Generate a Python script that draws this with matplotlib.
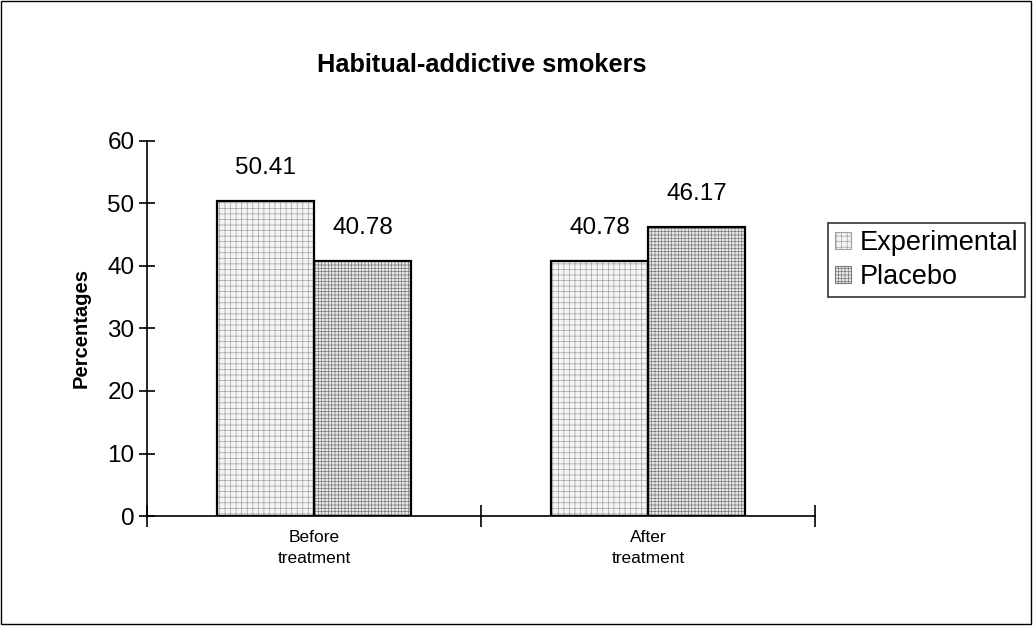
import matplotlib
matplotlib.use("Agg")
from matplotlib import pyplot as plt
from matplotlib.patches import Rectangle, Patch
import numpy as np

categories = ["Before\ntreatment", "After\ntreatment"]
series_names = ["Experimental", "Placebo"]
experimental = [50.41, 40.78]
placebo = [40.78, 46.17]
y_ticks = [0, 10, 20, 30, 40, 50, 60]

plt.rcParams['font.family'] = ['Liberation Sans', 'DejaVu Sans']
plt.rcParams['hatch.linewidth'] = 0.5

fig = plt.figure(figsize=(10.33, 6.26), dpi=100)
ax = fig.add_axes([0.1423, 0.1757, 0.789 - 0.1423, 0.7748 - 0.1757])

x = np.arange(len(categories))
width = 0.29
styles = [
    dict(facecolor='#f4f4f4', hatch_color='#a0a0a0', hatch='+++'),
    dict(facecolor='#e8e8e8', hatch_color='#7a7a7a', hatch='+++++'),
]

for i, values in enumerate([experimental, placebo]):
    xs = x + (i - 0.5) * width
    st = styles[i]
    ax.bar(xs, values, width, color=st['facecolor'], edgecolor=st['hatch_color'],
           hatch=st['hatch'], linewidth=0, zorder=2)
    ax.bar(xs, values, width, fill=False, edgecolor='black', linewidth=1.6, zorder=3)
    for xv, v in zip(xs, values):
        ax.annotate(f"{v:.2f}", (xv, v), xytext=(0, 16), textcoords='offset points',
                    ha='center', va='bottom', fontsize=17.5)

ax.set_xlim(-0.5, 1.5)
ax.set_ylim(0, 60)
ax.set_yticks(y_ticks)
ax.tick_params(axis='y', direction='inout', length=12, width=1.2, labelsize=17.5, pad=3)
ax.set_xticks(x)
ax.set_xticklabels(categories, fontsize=12.5, linespacing=1.5)
ax.tick_params(axis='x', which='major', length=0, pad=10)
ax.set_xticks([-0.5, 0.5, 1.5], minor=True)
ax.tick_params(axis='x', which='minor', direction='inout', length=16, width=1.2)

for s in ['top', 'right']:
    ax.spines[s].set_visible(False)
for s in ['left', 'bottom']:
    ax.spines[s].set_linewidth(1.2)

ax.set_ylabel("Percentages", fontsize=14.5, fontweight='bold', labelpad=12)
fig.text(0.466, 0.896, "Habitual-addictive smokers", ha='center', va='center',
         fontsize=18.3, fontweight='bold')

handles = [Patch(facecolor=styles[i]['facecolor'], edgecolor=styles[i]['hatch_color'],
                 hatch=styles[i]['hatch'], linewidth=0.8) for i in range(2)]
leg = fig.legend(handles, series_names, loc='center', bbox_to_anchor=(0.897, 0.585),
                 fontsize=19.5, frameon=True, fancybox=False, handlelength=0.6,
                 handleheight=0.6, handletextpad=0.3, borderpad=0.25, labelspacing=0.3)
leg.get_frame().set_edgecolor('black')
leg.get_frame().set_linewidth(1.2)

fig.patches.append(Rectangle((0.001, 0.003), 0.997, 0.995, transform=fig.transFigure,
                             fill=False, edgecolor='black', linewidth=1))

fig.savefig("out.png", dpi=100)
